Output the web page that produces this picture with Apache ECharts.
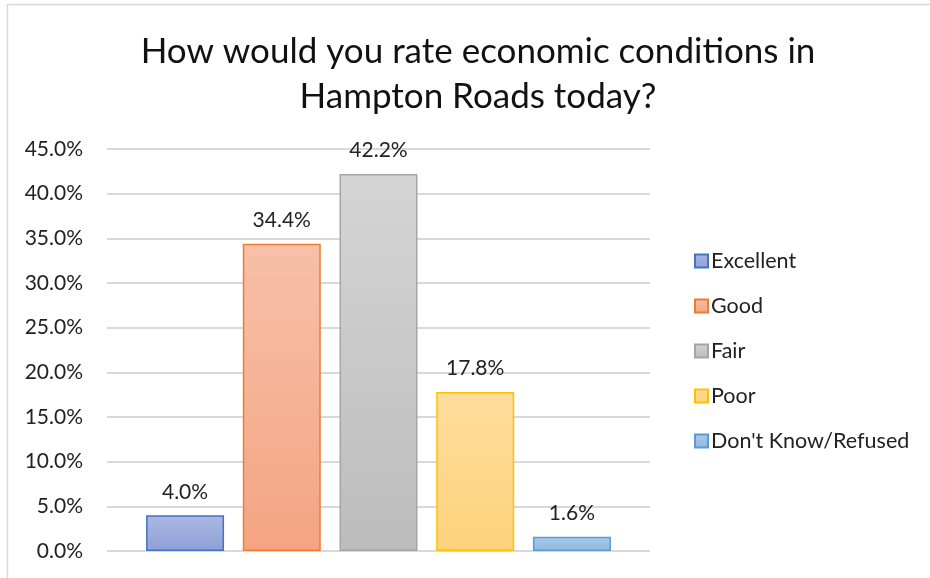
<!DOCTYPE html>
<html>
<head>
<meta charset="utf-8">
<script src="https://cdn.jsdelivr.net/npm/echarts@6/dist/echarts.min.js"></script>
<style>
  html, body { margin: 0; padding: 0; background: #fff; }
  #chart { width: 930px; height: 578px; }
</style>
</head>
<body>
<div id="chart"></div>
<script>
// Survey responses, percent of respondents
const categories = ['Rating'];
const seriesNames = ['Excellent', 'Good', 'Fair', 'Poor', "Don't Know/Refused"];
const seriesValues = [4.0, 34.4, 42.2, 17.8, 1.6];
const yTicks = [0, 5, 10, 15, 20, 25, 30, 35, 40, 45];

// Fill gradient (top, bottom) and outline for each series
const palette = [
  { top: '#aab7e2', bottom: '#8fa1d6', line: '#4472c4' },
  { top: '#f7c0a8', bottom: '#f4a482', line: '#ed7d31' },
  { top: '#d5d5d5', bottom: '#bcbcbc', line: '#a5a5a5' },
  { top: '#ffdd9c', bottom: '#fed27c', line: '#ffc000' },
  { top: '#a9c9ea', bottom: '#91b9e2', line: '#5b9bd5' }
];

const font = 'Lato, "Noto Sans", sans-serif';

const chart = echarts.init(document.getElementById('chart'));

const series = seriesNames.map((name, i) => ({
  name: name,
  type: 'bar',
  data: [seriesValues[i]],
  barWidth: 78,
  barGap: '24%',
  itemStyle: {
    color: new echarts.graphic.LinearGradient(0, 0, 0, 1, [
      { offset: 0, color: palette[i].top },
      { offset: 1, color: palette[i].bottom }
    ]),
    borderColor: palette[i].line,
    borderWidth: 1.5
  },
  label: {
    show: true,
    position: 'top',
    distance: 13,
    fontFamily: font,
    fontSize: 21,
    color: '#222',
    formatter: p => p.value.toFixed(1) + '%'
  }
}));

chart.setOption({
  animation: false,
  backgroundColor: '#fff',
  title: {
    text: 'How would you rate economic conditions in\nHampton Roads today?',
    left: 473,
    top: 24,
    textAlign: 'center',
    textStyle: {
      fontFamily: font,
      fontSize: 35,
      fontWeight: 'normal',
      color: '#111',
      lineHeight: 45
    }
  },
  legend: {
    orient: 'vertical',
    left: 689,
    top: 245,
    itemWidth: 13,
    itemHeight: 13,
    itemGap: 23,
    icon: 'rect',
    textStyle: { fontFamily: font, fontSize: 21.5, lineHeight: 22, color: '#222', padding: [0, 0, 0, -2] },
    data: seriesNames
  },
  grid: { left: 107, right: 280, top: 149, bottom: 27, containLabel: false },
  xAxis: {
    type: 'category',
    data: categories,
    axisLine: { show: false },
    axisTick: { show: false },
    axisLabel: { show: false }
  },
  yAxis: {
    type: 'value',
    min: yTicks[0],
    max: yTicks[yTicks.length - 1],
    interval: 5,
    axisLine: { show: false },
    axisTick: { show: false },
    splitLine: { lineStyle: { color: '#d9d9d9', width: 2 } },
    axisLabel: {
      margin: 24,
      fontFamily: font,
      fontSize: 21,
      color: '#222',
      formatter: v => v.toFixed(1) + '%'
    }
  },
  graphic: [
    {
      type: 'polyline',
      shape: { points: [[7.5, 578], [7.5, 4.5], [930, 4.5]] },
      style: { stroke: '#d9d9d9', lineWidth: 1.5, fill: null }
    }
  ],
  series: series
});
</script>
</body>
</html>
